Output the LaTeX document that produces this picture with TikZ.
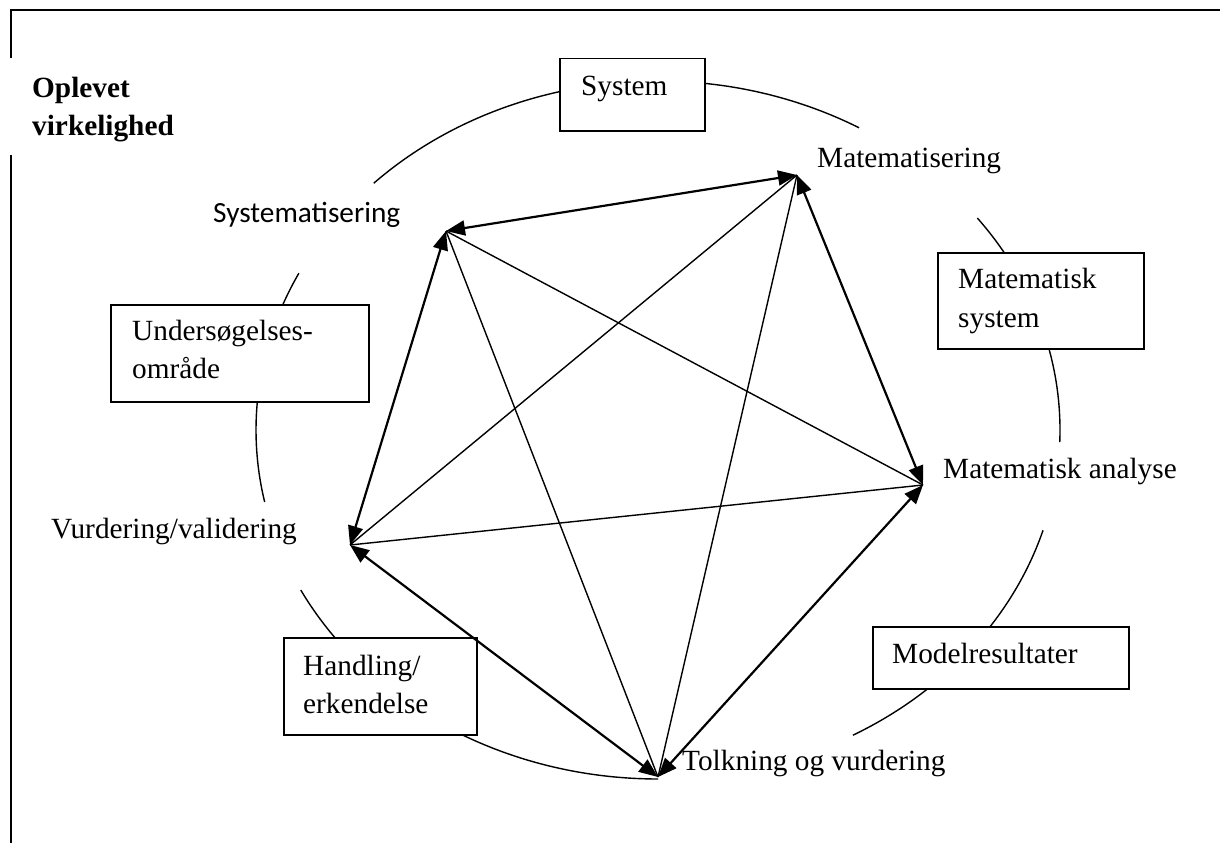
\documentclass[tikz,border=0pt]{standalone}
\usepackage{fontspec}
\setmainfont{Liberation Serif}
\newfontfamily\carlito{Carlito}
\usetikzlibrary{arrows.meta}
\newcommand\ellarc[2]{\draw[arcline] plot[domain=#1:#2, samples=80, smooth] ({658+402*cos(\x)},{430-349*sin(\x)});}
\begin{document}
\begin{tikzpicture}[x=1pt,y=-1pt,
  lbl/.style={inner sep=0pt, anchor=base west, font=\fontsize{29.3}{35}\selectfont},
  boldlbl/.style={lbl, font=\fontsize{29.3}{35}\selectfont\bfseries},
  sanslbl/.style={lbl, font=\fontsize{29.3}{35}\selectfont\carlito},
  boxnode/.style={draw, line width=1.5pt, fill=white, anchor=north west, inner sep=0pt},
  edgetwo/.style={line width=2.2pt, {Triangle[length=19pt,width=15pt]}-{Triangle[length=19pt,width=15pt]}},
  diag/.style={line width=1.4pt},
  arcline/.style={line width=1.4pt},
  frameline/.style={line width=2pt}]
\useasboundingbox (0,0) rectangle (1220,843);

% frame
\draw[frameline] (11,58) -- (11,10) -- (1220,10);
\draw[frameline] (11,155) -- (11,843);

% cycle arcs
\ellarc{60}{135}
\ellarc{-2}{37.4}
\ellarc{-61}{-16.7}
\ellarc{-152.7}{-90}
\ellarc{153.3}{191.9}

% boxes
\node[boxnode, minimum width=145pt, minimum height=72pt] (bsys) at (559,58) {};
\node[boxnode, minimum width=206pt, minimum height=96pt] (bmsys) at (937,252) {};
\node[boxnode, minimum width=258pt, minimum height=97pt] (bund) at (110,304) {};
\node[boxnode, minimum width=193pt, minimum height=97pt] (bhand) at (283,637) {};
\node[boxnode, minimum width=256pt, minimum height=62pt] (bmod) at (872,626) {};

% box texts
\node[lbl] (tsys) at (581,95) {System};
\node[lbl] (tmsys1) at (958,288) {Matematisk};
\node[lbl] (tmsys2) at (958,327) {system};
\node[lbl] (tund1) at (132,340) {Undersøgelses-};
\node[lbl] (tund2) at (132,378) {område};
\node[lbl] (thand1) at (303,675) {Handling/};
\node[lbl] (thand2) at (303,713) {erkendelse};
\node[lbl] (tmod) at (892,663) {Modelresultater};

% other labels
\node[boldlbl] (opl1) at (32,97) {Oplevet};
\node[boldlbl] (opl2) at (32,135) {virkelighed};
\node[sanslbl] (lS) at (213,222) {Systematisering};
\node[lbl] (lM) at (817,167) {Matematisering};
\node[lbl] (lA) at (943,478) {Matematisk analyse};
\node[lbl] (lT) at (682,770) {Tolkning og vurdering};
\node[lbl] (lV) at (51,538) {Vurdering/validering};

% pentagon vertices
\coordinate (S) at (446,231);
\coordinate (M) at (797,175);
\coordinate (A) at (923,485);
\coordinate (T) at (658,777);
\coordinate (V) at (350,545);

% diagonals
\draw[diag] (S) -- (A);
\draw[diag] (S) -- (T);
\draw[diag] (M) -- (V);
\draw[diag] (M) -- (T);
\draw[diag] (V) -- (A);

% edges with double arrows
\draw[edgetwo] (S) -- (M);
\draw[edgetwo] (M) -- (A);
\draw[edgetwo] (A) -- (T);
\draw[edgetwo] (T) -- (V);
\draw[edgetwo] (V) -- (S);
\end{tikzpicture}
\end{document}
